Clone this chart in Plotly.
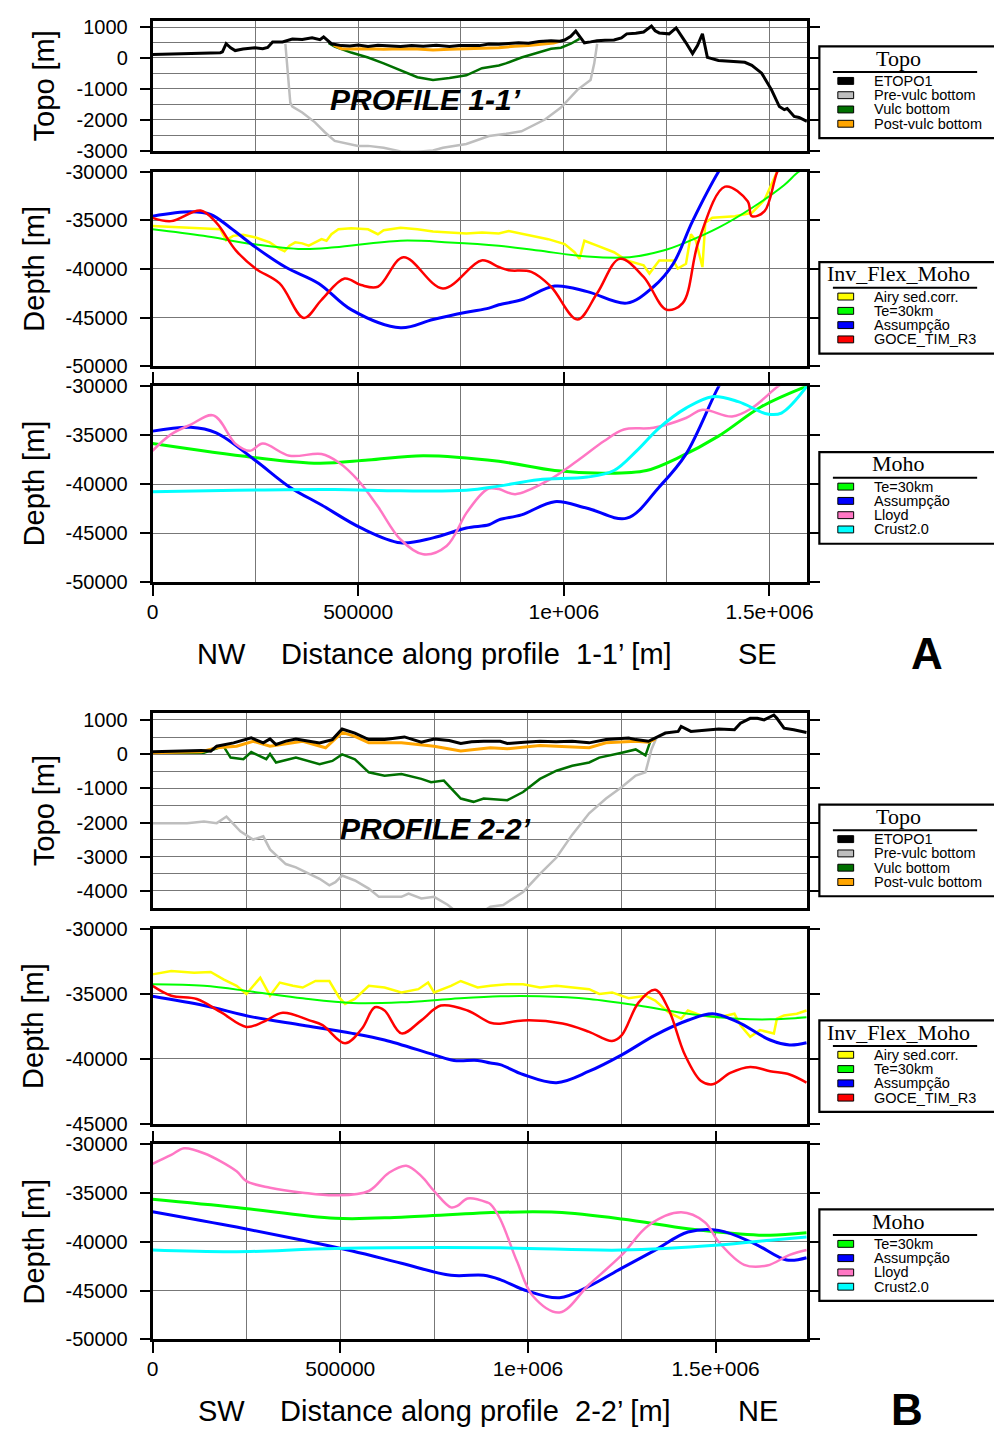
import plotly.graph_objects as go

W, H = 994, 1439

# ---------------- DATA (x in km along profile, y in m) ----------------
# Profile 1-1' : Topo
A_etopo_x = [0, 45, 77, 120, 165, 170, 179, 190, 201, 220, 249, 268, 280, 292, 316, 340, 364, 388, 407, 416, 435, 459, 480, 500, 524, 548, 575, 603, 630, 658, 690, 722, 745, 770, 795, 818, 842, 866, 890, 914, 940, 969, 990, 1002, 1017, 1029, 1040, 1050, 1065, 1081, 1100, 1122, 1140, 1153, 1175, 1194, 1213, 1222, 1232, 1256, 1273, 1285, 1297, 1313, 1325, 1337, 1349, 1376, 1410, 1440, 1457, 1481, 1505, 1524, 1536, 1543, 1560, 1572, 1591]
A_etopo_y = [111, 125, 140, 155, 170, 200, 460, 330, 240, 290, 330, 300, 340, 520, 520, 610, 600, 650, 590, 680, 460, 400, 390, 420, 370, 410, 380, 370, 400, 380, 410, 370, 400, 410, 400, 450, 440, 470, 490, 480, 530, 560, 540, 580, 700, 870, 650, 490, 520, 560, 570, 580, 650, 780, 800, 840, 1030, 880, 810, 780, 970, 750, 490, 140, 400, 780, 20, -80, -100, -140, -240, -490, -1030, -1570, -1670, -1635, -1890, -1920, -2050]
A_prevulc_x = [323, 335, 340, 364, 395, 419, 443, 476, 500, 524, 562, 603, 644, 682, 706, 763, 818, 860, 897, 955, 993, 1033, 1065, 1074, 1081]
A_prevulc_y = [460, -1440, -1570, -1760, -2080, -2400, -2680, -2780, -2840, -2840, -2900, -3020, -3030, -2990, -2900, -2780, -2520, -2450, -2370, -1980, -1600, -1030, -710, -175, 460]
A_vulc_x = [428, 443, 483, 524, 562, 603, 644, 682, 722, 763, 801, 842, 859, 897, 938, 969, 993, 1017, 1038]
A_vulc_y = [490, 365, 175, 16, -175, -400, -620, -710, -650, -560, -330, -240, -175, 16, 175, 300, 330, 460, 620]
A_post_x = [440, 459, 483, 524, 562, 603, 644, 682, 722, 763, 801, 842, 880, 914, 950, 975, 990]
A_post_y = [420, 300, 290, 300, 280, 300, 290, 260, 280, 300, 320, 330, 380, 400, 450, 480, 540]

# Profile 1-1' : Inv_Flex_Moho
A_airy_x = [0, 124, 165, 179, 196, 220, 251, 285, 309, 321, 333, 347, 364, 380, 395, 411, 423, 435, 452, 483, 524, 548, 562, 603, 644, 682, 722, 763, 801, 842, 866, 921, 962, 1002, 1026, 1038, 1050, 1081, 1122, 1153, 1194, 1208, 1232, 1266, 1277, 1297, 1309, 1321, 1337, 1344, 1361, 1416, 1457, 1488, 1512, 1524]
A_airy_y = [-35590, -35830, -35930, -37040, -36600, -36500, -36770, -37270, -37950, -38180, -37610, -37270, -37370, -37610, -37270, -36940, -37100, -36430, -35930, -35830, -35930, -36430, -36030, -35760, -35930, -36160, -36260, -36360, -36260, -36360, -36100, -36570, -36940, -37440, -38280, -38960, -37100, -37610, -38280, -39120, -39630, -40470, -39120, -39120, -39960, -39460, -36430, -37100, -39800, -35250, -34750, -34580, -34240, -32900, -30710, -29500]
A_te_x = [0, 124, 244, 364, 443, 603, 722, 842, 938, 1057, 1160, 1242, 1297, 1376, 1457, 1536, 1572, 1600]
A_te_y = [-35930, -36600, -37440, -37950, -37780, -37100, -37270, -37610, -38110, -38720, -38790, -38110, -37270, -35760, -33740, -31380, -30000, -29500]
A_ass_x = [0, 93, 141, 189, 251, 323, 404, 483, 603, 682, 763, 818, 842, 897, 978, 1057, 1153, 1218, 1266, 1313, 1376, 1400]
A_ass_y = [-34580, -34140, -34410, -35760, -37780, -39800, -41480, -44170, -46030, -45180, -44440, -44010, -43670, -43160, -41750, -42320, -43500, -41820, -39460, -35090, -30030, -28500]
A_goce_x = [0, 45, 117, 155, 203, 251, 309, 368, 411, 467, 507, 548, 610, 706, 800, 842, 866, 921, 969, 1033, 1081, 1136, 1194, 1249, 1289, 1328, 1392, 1447, 1457, 1488, 1519, 1540]
A_goce_y = [-34750, -35090, -34010, -35250, -38110, -39970, -41480, -45020, -43160, -40980, -41650, -41820, -38790, -41990, -39120, -39800, -40130, -40300, -41820, -45180, -42490, -38960, -40810, -44170, -43500, -37100, -31550, -33060, -34580, -34070, -30030, -28500]

# Profile 1-1' : Moho
A_te2_x = [0, 244, 404, 524, 658, 842, 978, 1098, 1201, 1280, 1376, 1481, 1591]
A_te2_y = [-35860, -37270, -37870, -37540, -37100, -37670, -38610, -38880, -38610, -37270, -35100, -32080, -30000]
A_ass2_x = [0, 93, 155, 251, 333, 411, 507, 603, 682, 763, 818, 842, 897, 978, 1057, 1153, 1232, 1297, 1376, 1400]
A_ass2_y = [-34590, -34190, -34760, -37610, -40280, -42130, -44470, -45980, -45480, -44470, -44140, -43640, -43140, -41790, -42460, -43470, -40280, -36930, -30070, -28500]
A_lloyd_x = [0, 45, 93, 148, 203, 237, 268, 333, 411, 452, 500, 548, 603, 658, 715, 763, 801, 818, 842, 882, 962, 1033, 1098, 1146, 1218, 1297, 1337, 1409, 1457, 1519, 1540]
A_lloyd_y = [-36600, -34920, -33920, -32980, -35930, -36600, -35860, -37100, -36930, -37770, -39620, -42290, -45650, -47160, -46310, -42960, -40950, -40450, -40500, -41020, -39620, -37610, -35600, -34420, -34250, -33250, -32410, -33090, -32240, -30070, -29500]
A_crust_x = [0, 203, 442, 603, 763, 842, 938, 1057, 1122, 1177, 1232, 1297, 1361, 1424, 1495, 1529, 1591]
A_crust_y = [-40780, -40620, -40550, -40680, -40620, -40200, -39550, -39280, -38610, -36600, -34250, -32240, -31070, -31580, -32840, -32740, -30000]

# Profile 2-2' : Topo
B_etopo_x = [0, 50, 92, 130, 155, 171, 216, 263, 295, 313, 329, 355, 382, 445, 479, 505, 539, 576, 618, 671, 716, 750, 790, 821, 850, 882, 926, 945, 990, 1032, 1075, 1118, 1163, 1208, 1268, 1287, 1321, 1339, 1366, 1400, 1408, 1434, 1461, 1508, 1550, 1566, 1592, 1611, 1629, 1655, 1663, 1682, 1708, 1742]
B_etopo_y = [72, 80, 89, 110, 89, 233, 330, 474, 330, 445, 282, 380, 445, 330, 425, 733, 617, 425, 425, 503, 348, 445, 400, 310, 360, 377, 377, 310, 350, 377, 360, 377, 330, 425, 474, 425, 377, 474, 617, 664, 808, 664, 693, 733, 713, 905, 1048, 1048, 1000, 1144, 1048, 761, 713, 635]
B_post_x = [0, 130, 171, 224, 268, 313, 400, 461, 505, 539, 576, 663, 750, 821, 900, 945, 1032, 1118, 1163, 1208, 1287, 1321, 1339]
B_post_y = [43, 70, 187, 233, 377, 233, 377, 187, 635, 521, 330, 330, 233, 89, 187, 158, 253, 215, 187, 330, 377, 348, 440]
B_vulc_x = [0, 137, 189, 208, 242, 263, 303, 313, 329, 382, 445, 479, 505, 539, 576, 618, 663, 716, 742, 776, 821, 855, 882, 926, 945, 987, 1032, 1076, 1118, 1163, 1190, 1250, 1287, 1313, 1326, 1339]
B_vulc_y = [43, 43, 233, -101, -149, 60, -149, 5, -244, -101, -293, -198, -6, -149, -532, -629, -580, -724, -819, -772, -1299, -1394, -1299, -1347, -1347, -1107, -724, -485, -341, -244, -101, 43, 138, -34, 377, 474]
B_prevulc_x = [0, 92, 137, 171, 197, 234, 268, 295, 313, 355, 382, 445, 471, 487, 505, 539, 576, 603, 663, 682, 716, 750, 787, 803, 840, 880, 900, 934, 987, 1032, 1076, 1118, 1163, 1208, 1250, 1287, 1313, 1329, 1342]
B_prevulc_y = [-2017, -2017, -1969, -2017, -1825, -2256, -2497, -2402, -2785, -3213, -3310, -3645, -3836, -3741, -3549, -3693, -3932, -4172, -4172, -4077, -4220, -4172, -4411, -4555, -4650, -4600, -4460, -4411, -4029, -3502, -3023, -2353, -1730, -1299, -963, -629, -532, 138, 474]

# Profile 2-2' : Inv_Flex_Moho
B_airy_x = [0, 50, 111, 155, 189, 224, 250, 287, 313, 339, 374, 400, 434, 471, 497, 513, 539, 576, 618, 663, 708, 734, 750, 795, 821, 866, 900, 945, 987, 1032, 1076, 1118, 1163, 1190, 1224, 1268, 1313, 1339, 1374, 1408, 1426, 1461, 1508, 1550, 1566, 1592, 1618, 1655, 1663, 1682, 1716, 1742]
B_airy_y = [-33510, -33260, -33380, -33330, -33890, -34390, -35020, -33760, -35150, -34140, -34390, -34520, -34020, -34020, -35280, -35780, -35400, -34390, -34520, -34900, -34650, -34140, -34900, -34390, -34020, -34520, -34390, -34270, -34270, -34520, -34390, -34520, -34650, -35020, -34900, -35350, -35150, -35530, -36420, -36920, -36290, -36670, -36800, -36540, -37420, -38310, -37800, -38050, -36920, -36670, -36540, -36290]
B_te_x = [0, 137, 268, 400, 532, 663, 795, 926, 1032, 1163, 1295, 1426, 1558, 1645, 1742]
B_te_y = [-34270, -34390, -34850, -35350, -35710, -35660, -35400, -35200, -35200, -35400, -35910, -36540, -36920, -36970, -36800]
B_ass_x = [0, 137, 268, 400, 532, 618, 750, 803, 866, 900, 926, 987, 1076, 1163, 1250, 1339, 1426, 1492, 1558, 1645, 1697, 1742]
B_ass_y = [-35200, -35910, -36800, -37420, -38050, -38560, -39700, -40130, -40130, -40330, -40450, -41210, -41840, -40960, -39700, -38180, -37040, -36540, -37170, -38560, -38940, -38770]
B_goce_x = [0, 50, 118, 182, 250, 295, 347, 418, 453, 513, 558, 592, 618, 663, 716, 768, 839, 900, 926, 987, 1092, 1163, 1224, 1250, 1295, 1339, 1374, 1418, 1461, 1492, 1539, 1592, 1645, 1697, 1742]
B_goce_y = [-34390, -35150, -35400, -36420, -37550, -37170, -36470, -37050, -37420, -38810, -37670, -36040, -36290, -38050, -37050, -35910, -36290, -37230, -37300, -37050, -37290, -37930, -38640, -38180, -35660, -34700, -36160, -39700, -41720, -41970, -41090, -40630, -40960, -41210, -41840]

# Profile 2-2' : Moho
B_te2_x = [0, 224, 487, 663, 926, 1076, 1250, 1426, 1558, 1645, 1742]
B_te2_y = [-35620, -36460, -37580, -37470, -36970, -36970, -37650, -38650, -39160, -39320, -39060]
B_ass2_x = [0, 224, 400, 532, 663, 795, 882, 926, 987, 1084, 1163, 1250, 1339, 1426, 1508, 1603, 1689, 1742]
B_ass2_y = [-36900, -38480, -39830, -40940, -42190, -43430, -43430, -43870, -44880, -45730, -44540, -42690, -40840, -38990, -38820, -40170, -41850, -41620]
B_lloyd_x = [0, 50, 84, 137, 224, 250, 313, 400, 487, 576, 629, 676, 716, 750, 795, 813, 839, 892, 900, 926, 971, 1013, 1084, 1163, 1250, 1321, 1408, 1471, 1508, 1576, 1637, 1697, 1742]
B_lloyd_y = [-31990, -31080, -30400, -30910, -32760, -33770, -34440, -34950, -35220, -34780, -32930, -32190, -33260, -34780, -36460, -36290, -35550, -35960, -36130, -37650, -42020, -45550, -47240, -44370, -41340, -38310, -36970, -37980, -40000, -42350, -42420, -41340, -40840]
B_crust_x = [0, 224, 487, 926, 1250, 1508, 1645, 1742]
B_crust_y = [-40840, -41010, -40680, -40610, -40840, -40330, -39830, -39490]

# Tick labels
x_tickvals = [0, 500000, 1000000, 1500000]
x_ticktext = ["0", "500000", "1e+006", "1.5e+006"]
topoA_tickvals = [1000, 0, -1000, -2000, -3000]
topoB_tickvals = [1000, 0, -1000, -2000, -3000, -4000]
depth_tickvals = [-30000, -35000, -40000, -45000, -50000]
depthB_mid_tickvals = [-30000, -35000, -40000, -45000]

# Legend texts
topo_legend = ["ETOPO1", "Pre-vulc bottom", "Vulc bottom", "Post-vulc bottom"]
inv_legend = ["Airy sed.corr.", "Te=30km", "Assumpção", "GOCE_TIM_R3"]
moho_legend = ["Te=30km", "Assumpção", "Lloyd", "Crust2.0"]

# ---------------- STYLE ----------------
C_BLACK = "#000000"
C_GRAY = "#BEBEBE"
C_DKGREEN = "#007000"
C_ORANGE = "#FFA500"
C_YELLOW = "#FFFF00"
C_GREEN = "#00FF00"
C_BLUE = "#0000FF"
C_RED = "#FF0000"
C_PINK = "#FF77C4"
C_CYAN = "#00FFFF"
SANS = "Liberation Sans, Arial, sans-serif"
SERIF = "Liberation Serif, Times New Roman, serif"
GRID = "#777777"


def px(x):
    return x / W


def py(y):
    return 1 - y / H


fig = go.Figure()

XL_A, XR_A = 148.3, 810.7
XL_B, XR_B = 148.3, 810.7
panels = [
    ("A1", 10, 142, XL_A, XR_A, 1591000, [-3000, 1200], topoA_tickvals, [500, -500, -1500, -2500], False),
    ("A2", 163, 361, XL_A, XR_A, 1591000, [-50000, -30000], depth_tickvals, [], False),
    ("A3", 381, 580, XL_A, XR_A, 1591000, [-50000, -30000], depth_tickvals, [], True),
    ("B1", 713, 911, XL_B, XR_B, 1743000, [-4500, 1200], topoB_tickvals, [500, -500, -1500, -2500, -3500], False),
    ("B2", 932, 1130, XL_B, XR_B, 1743000, [-45000, -30000], depthB_mid_tickvals, [], False),
    ("B3", 1151, 1349, XL_B, XR_B, 1743000, [-50000, -30000], depth_tickvals, [], True),
]

layout_axes = {}
for i, (name, top, bot, xl, xr, xmax, yr, ytv, ymin, isbottom) in enumerate(panels, start=1):
    xk = "xaxis" if i == 1 else f"xaxis{i}"
    yk = "yaxis" if i == 1 else f"yaxis{i}"
    xa = dict(
        domain=[px(xl), px(xr)], range=[0, xmax], anchor=f"y{'' if i == 1 else i}",
        showline=True, linecolor="black", linewidth=2.5,
        tickmode="array", tickvals=x_tickvals, ticktext=x_ticktext,
        showgrid=True, gridcolor=GRID, gridwidth=1, zeroline=False,
        minor=dict(tickvals=[250000, 750000, 1250000], showgrid=True, gridcolor=GRID, gridwidth=1, ticks=""),
        tickfont=dict(family=SANS, size=21, color="black"),
        fixedrange=True,
    )
    if isbottom:
        xa.update(ticks="outside", ticklen=11, tickwidth=2, tickcolor="black", mirror="allticks",
                  showticklabels=True, ticklabelstandoff=-2)
    else:
        xa.update(ticks="", mirror=True, showticklabels=False)
    ya = dict(
        domain=[py(bot), py(top)], range=yr, anchor=f"x{'' if i == 1 else i}",
        showline=True, linecolor="black", linewidth=2.5, mirror="allticks",
        ticks="outside", ticklen=10, tickwidth=2, tickcolor="black",
        tickmode="array", tickvals=ytv, ticktext=[str(v) for v in ytv],
        showgrid=True, gridcolor=GRID, gridwidth=1, zeroline=False,
        tickfont=dict(family=SANS, size=20, color="black"),
        ticklabelstandoff=8, fixedrange=True,
    )
    if ymin:
        ya["minor"] = dict(tickvals=ymin, showgrid=True, gridcolor=GRID, gridwidth=1, ticks="")
    layout_axes[xk] = xa
    layout_axes[yk] = ya


def add_line(xs, ys, color, width, panel, shape="linear"):
    ax = "" if panel == 1 else str(panel)
    line = dict(color=color, width=width, shape=shape)
    if shape == "spline":
        line["smoothing"] = 1.0
    fig.add_trace(go.Scatter(
        x=[v * 1000 for v in xs], y=ys, mode="lines", line=line,
        xaxis=f"x{ax}", yaxis=f"y{ax}", showlegend=False, hoverinfo="skip",
        cliponaxis=True,
    ))


# Panel A1 topo
add_line(A_prevulc_x, A_prevulc_y, C_GRAY, 2.5, 1)
add_line(A_vulc_x, A_vulc_y, C_DKGREEN, 2.5, 1)
add_line(A_post_x, A_post_y, C_ORANGE, 3, 1)
add_line(A_etopo_x, A_etopo_y, C_BLACK, 3, 1)
# Panel A2
add_line(A_airy_x, A_airy_y, C_YELLOW, 2.5, 2)
add_line(A_te_x, A_te_y, C_GREEN, 2, 2, "spline")
add_line(A_ass_x, A_ass_y, C_BLUE, 3, 2, "spline")
add_line(A_goce_x, A_goce_y, C_RED, 2.5, 2, "spline")
# Panel A3
add_line(A_te2_x, A_te2_y, C_GREEN, 3, 3, "spline")
add_line(A_ass2_x, A_ass2_y, C_BLUE, 3, 3, "spline")
add_line(A_lloyd_x, A_lloyd_y, C_PINK, 2.5, 3, "spline")
add_line(A_crust_x, A_crust_y, C_CYAN, 3, 3, "spline")
# Panel B1 topo
add_line(B_prevulc_x, B_prevulc_y, C_GRAY, 2.5, 4)
add_line(B_vulc_x, B_vulc_y, C_DKGREEN, 2.5, 4)
add_line(B_post_x, B_post_y, C_ORANGE, 3, 4)
add_line(B_etopo_x, B_etopo_y, C_BLACK, 3, 4)
# Panel B2
add_line(B_airy_x, B_airy_y, C_YELLOW, 2.5, 5)
add_line(B_te_x, B_te_y, C_GREEN, 2, 5, "spline")
add_line(B_ass_x, B_ass_y, C_BLUE, 3, 5, "spline")
add_line(B_goce_x, B_goce_y, C_RED, 2.5, 5, "spline")
# Panel B3
add_line(B_te2_x, B_te2_y, C_GREEN, 3, 6, "spline")
add_line(B_ass2_x, B_ass2_y, C_BLUE, 3, 6, "spline")
add_line(B_lloyd_x, B_lloyd_y, C_PINK, 2.5, 6, "spline")
add_line(B_crust_x, B_crust_y, C_CYAN, 3, 6, "spline")

shapes = []
annotations = []


def text(x, y, s, size, family=SANS, xanchor="center", yanchor="middle", angle=0, color="black"):
    annotations.append(dict(x=px(x), y=py(y), xref="paper", yref="paper", text=s, showarrow=False,
                            font=dict(family=family, size=size, color=color), xanchor=xanchor,
                            yanchor=yanchor, textangle=angle))


def legend(top, title, labels, colors):
    shapes.append(dict(type="rect", xref="paper", yref="paper", x0=px(823.3), x1=px(1010),
                       y0=py(top + 93), y1=py(top), line=dict(color="black", width=2.2),
                       fillcolor="white", layer="above"))
    text(903, top + 12, title, 22, family=SERIF)
    shapes.append(dict(type="line", xref="paper", yref="paper", x0=px(837), x1=px(983),
                       y0=py(top + 26), y1=py(top + 26), line=dict(color="black", width=2)))
    for k, (lab, col) in enumerate(zip(labels, colors)):
        yc = top + 35 + 14.5 * k
        shapes.append(dict(type="rect", xref="paper", yref="paper", x0=px(842), x1=px(858),
                           y0=py(yc + 3.5), y1=py(yc - 3.5), line=dict(color="black", width=1),
                           fillcolor=col))
        text(877, yc, lab, 14.5, xanchor="left")


topo_cols = [C_BLACK, C_GRAY, C_DKGREEN, C_ORANGE]
inv_cols = [C_YELLOW, C_GREEN, C_BLUE, C_RED]
moho_cols = [C_GREEN, C_BLUE, C_PINK, C_CYAN]

legend(36, "Topo", topo_legend, topo_cols)
legend(255, "Inv_Flex_Moho", inv_legend, inv_cols)
legend(448, "Moho", moho_legend, moho_cols)
legend(806, "Topo", topo_legend, topo_cols)
legend(1025, "Inv_Flex_Moho", inv_legend, inv_cols)
legend(1217, "Moho", moho_legend, moho_cols)

# Axis titles
text(38, 76, "Topo [m]", 29, angle=-90)
text(28, 262, "Depth [m]", 29, angle=-90)
text(28, 480, "Depth [m]", 29, angle=-90)
text(38, 812, "Topo [m]", 29, angle=-90)
text(28, 1031, "Depth [m]", 29, angle=-90)
text(28, 1250, "Depth [m]", 29, angle=-90)

# X titles
text(218, 653, "NW", 29)
text(476, 653, "Distance along profile  1-1’ [m]", 29)
text(761, 653, "SE", 29)
text(932, 652, "<b>A</b>", 44)
text(218, 1422, "SW", 29)
text(475, 1422, "Distance along profile  2-2’ [m]", 29)
text(761, 1422, "NE", 29)
text(912, 1420, "<b>B</b>", 44)

# Profile labels
text(425, 90, "<b><i>PROFILE 1-1’</i></b>", 30)
text(435, 830, "<b><i>PROFILE 2-2’</i></b>", 30)

fig.update_layout(
    width=W, height=H, margin=dict(l=0, r=0, t=0, b=0),
    paper_bgcolor="white", plot_bgcolor="white",
    showlegend=False, shapes=shapes, annotations=annotations,
    **layout_axes,
)

fig.write_html("out.html", post_script="document.body.style.margin='0';document.body.style.padding='0';")
